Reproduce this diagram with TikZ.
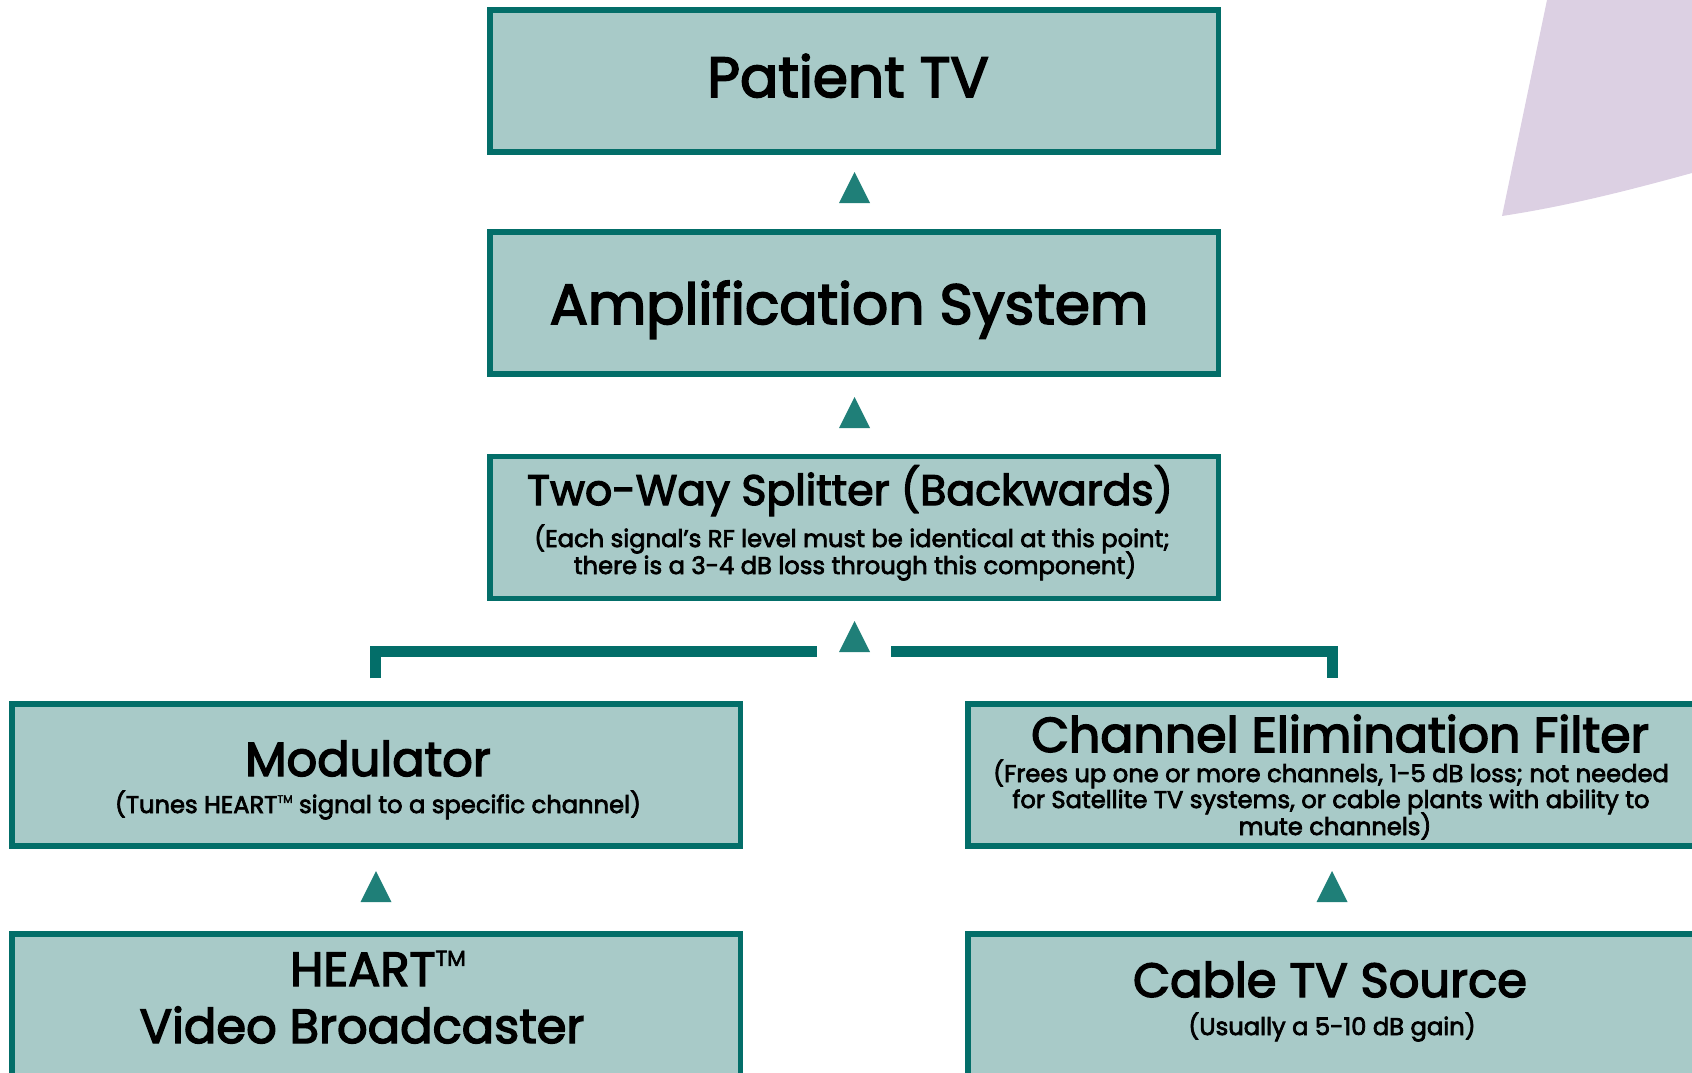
\documentclass[tikz,border=0pt]{standalone}
\usepackage{fontspec}
\usetikzlibrary{calc}
\newfontfamily\tf{Poppins}[BoldFont=Poppins, BoldFeatures={FakeBold=3}]
\definecolor{tealdark}{HTML}{036E69}
\definecolor{tealfill}{HTML}{A8CAC8}
\definecolor{tealtri}{HTML}{1F7F78}
\definecolor{lilac}{HTML}{DCD0E3}
\newcommand\tmark{\raisebox{0.42em}{\fontsize{0.45em}{0.5em}\selectfont TM}}
\begin{document}
\begin{tikzpicture}[x=0.5pt,y=-0.5pt,
  box/.style={draw=tealdark, fill=tealfill, line width=2.75pt, minimum width=364.25pt, minimum height=71pt, inner sep=0pt},
  ttl/.style={anchor=base, inner sep=0pt, font=\tf\bfseries\fontsize{28.3}{34}\selectfont},
  mid/.style={anchor=base, inner sep=0pt, font=\tf\bfseries\fontsize{21.3}{26}\selectfont},
  sub/.style={anchor=base, inner sep=0pt, font=\tf\bfseries\fontsize{12.1}{14}\selectfont},
  low/.style={anchor=base, inner sep=0pt, font=\tf\bfseries\fontsize{24}{29}\selectfont},
  tri/.style={fill=tealtri},
  brk/.style={draw=tealdark, line width=5.5pt}]
\useasboundingbox (0,0) rectangle (1692,1072);
\clip (0,0) rectangle (1692,1072);
% decorative shape
\fill[lilac] (1547,0) .. controls (1532,72) and (1517,144) .. (1502,216)
  .. controls (1568,206) and (1630,190) .. (1692,173) -- (1692,0) -- cycle;
% boxes
\node[box] (tv)    at (854,80.8) {};
\node[box] (amp)   at (854,303.2) {};
\node[box] (split) at (854,527.5) {};
\node[box] (mod)   at (376,775) {};
\node[box] (heart) at (376,1005) {};
\node[box] (cef)   at (1332,775) {};
\node[box] (cable) at (1332,1005) {};
% texts
\node[ttl] (tvT) at (848,97) {Patient TV};
\node[ttl] (ampT) at (849,324) {Amplification System};
\node[mid] (splT) at (850,505) {Two-Way Splitter (Backwards)};
\node[sub] (splA) at (852,547) {(Each signal’s RF level must be identical at this point;};
\node[sub] (splB) at (855,574) {there is a 3-4 dB loss through this component)};
\node[low] (modT) at (368,776) {Modulator};
\node[sub] (modA) at (378,813) {(Tunes HEART\tmark{} signal to a specific channel)};
\node[low] (heaT) at (378,986) {HEART\tmark};
\node[low] (heaB) at (362,1043) {Video Broadcaster};
\node[low,font=\tf\bfseries\fontsize{24.5}{29}\selectfont] (cefT) at (1340,752) {Channel Elimination Filter};
\node[sub] (cefA) at (1331,782) {(Frees up one or more channels, 1-5 dB loss; not needed};
\node[sub] (cefB) at (1331,808) {for Satellite TV systems, or cable plants with ability to};
\node[sub] (cefC) at (1335,835) {mute channels)};
\node[low] (cabT) at (1330,997) {Cable TV Source};
\node[sub] (cabA) at (1332,1035) {(Usually a 5-10 dB gain)};
% arrow heads
\newcommand\uptri[2]{\fill[tri] (#1,#2) -- ++(15.5,31) -- ++(-31,0) -- cycle;}
\uptri{854.5}{172}
\uptri{854.5}{397}
\uptri{854.5}{621}
\uptri{376}{871}
\uptri{1332}{871}
% bracket
\coordinate (bl) at (817,651.5);
\coordinate (br) at (891,651.5);
\draw[brk] ($(mod.north)+(-1,-23)$) |- (bl);
\draw[brk] (br) -| ($(cef.north)+(0,-23)$);
\end{tikzpicture}
\end{document}
